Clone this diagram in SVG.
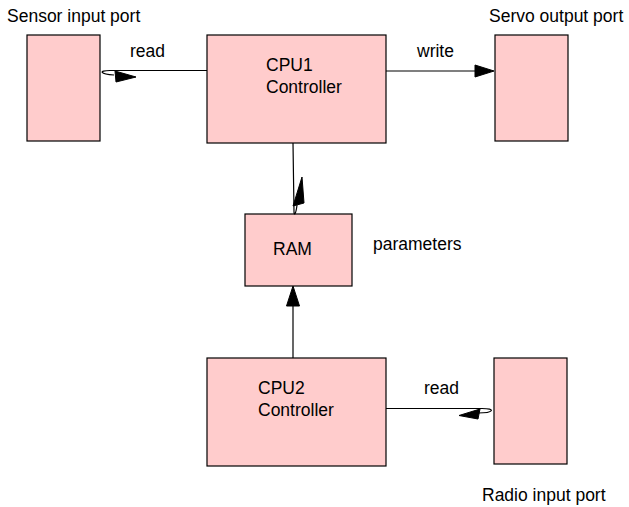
<svg xmlns="http://www.w3.org/2000/svg" width="629" height="507" viewBox="0 0 629 507">
<style>
.box{fill:#ffcccc;stroke:#000;stroke-width:1.2}
text{font-family:"Liberation Sans",Arial,sans-serif;font-size:17.5px;fill:#000}
.ln{fill:none;stroke:#000;stroke-width:1.2}
.ah{fill:#000;stroke:#000;stroke-width:1}
</style>
<rect width="629" height="507" fill="#fff"/>
<g id="sensor"><rect class="box" x="27" y="35" width="73" height="106"/><text x="7" y="22">Sensor input port</text></g>
<g id="cpu1"><rect class="box" x="207" y="35" width="179" height="108"/><text x="266" y="71">CPU1</text><text x="266" y="93">Controller</text></g>
<g id="servo"><rect class="box" x="495" y="35" width="73" height="106"/><text x="489" y="22">Servo output port</text></g>
<g id="ram"><rect class="box" x="245" y="214" width="107" height="72"/><text x="273" y="255">RAM</text></g>
<g id="cpu2"><rect class="box" x="207" y="358" width="179" height="108"/><text x="258" y="394">CPU2</text><text x="258" y="416">Controller</text></g>
<g id="radio"><rect class="box" x="494" y="358" width="73" height="106"/><text x="482" y="501">Radio input port</text></g>
<g id="connectors">
<path class="ln" d="M207,70.5 L110,70.5 C98,70.5 100,74 114,75"/>
<polygon class="ah" points="136,77 115,71 116,82"/>
<text x="130" y="57">read</text>
<path class="ln" d="M386,71 L476,71"/>
<polygon class="ah" points="494,71 475,65 475,77"/>
<text x="417" y="57">write</text>
<path class="ln" d="M293,143 L294,212 C294,216 296,214 297,205"/>
<polygon class="ah" points="302,177 293,206 304,203"/>
<text x="373" y="250">parameters</text>
<path class="ln" d="M293,358 L293,305"/>
<polygon class="ah" points="293,286 286.5,306 299.5,306"/>
<path class="ln" d="M386,408.5 L482,408.5 C496,408.5 494,413 478,413"/>
<polygon class="ah" points="459,415.5 480,409 478,419"/>
<text x="424" y="394">read</text>
</g>
</svg>
